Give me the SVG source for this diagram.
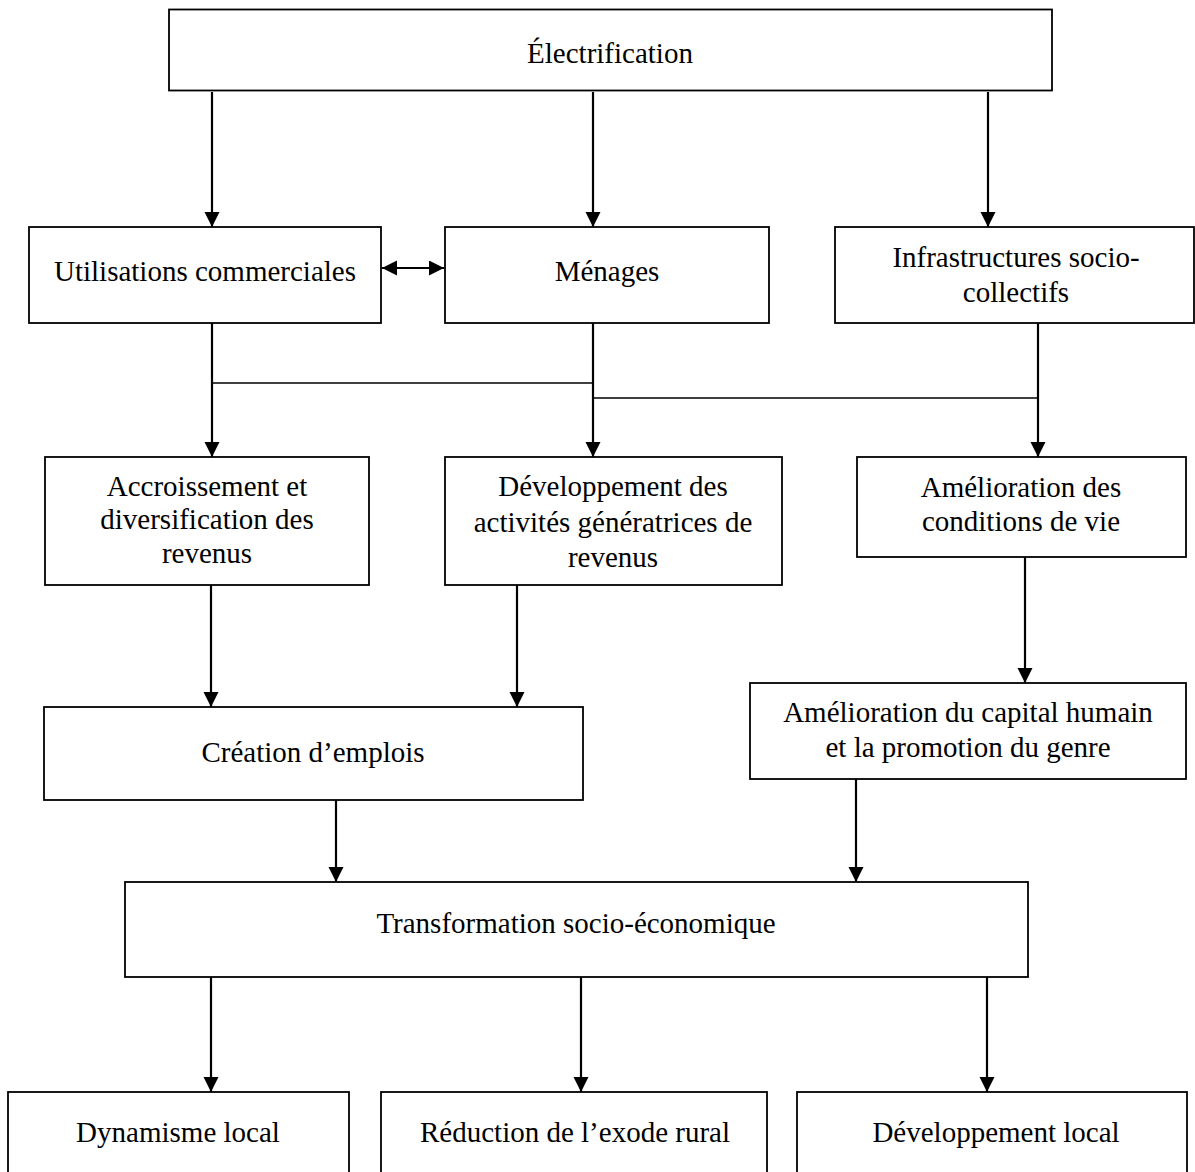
<svg xmlns="http://www.w3.org/2000/svg" width="1195" height="1172" viewBox="0 0 1195 1172">
<style>
.box{fill:#fff;stroke:#000;stroke-width:1.8}
text{font-family:'Liberation Serif','Times New Roman',Times,Tinos,'DejaVu Serif',serif;font-size:29px;fill:#000;text-anchor:middle}
.c{fill:none;stroke:#000;stroke-width:2.2}
.h{fill:none;stroke:#000;stroke-width:1.5}
</style>
<defs>
<marker id="arr" markerUnits="userSpaceOnUse" markerWidth="16" markerHeight="16" refX="15" refY="7.5" orient="auto-start-reverse">
<path d="M0,0 L15,7.5 L0,15 z" fill="#000"/>
</marker>
</defs>
<rect width="1195" height="1172" fill="#fff"/>
<g id="n-electrification"><rect class="box" x="169" y="9.5" width="883" height="81"/><text x="610" y="63">Électrification</text></g>
<g id="n-utilisations"><rect class="box" x="29" y="227" width="352" height="96"/><text x="205" y="281">Utilisations commerciales</text></g>
<g id="n-menages"><rect class="box" x="445" y="227" width="324" height="96"/><text x="607" y="281">Ménages</text></g>
<g id="n-infra"><rect class="box" x="835" y="227" width="359" height="96"/><text x="1016" y="267">Infrastructures socio-</text><text x="1016" y="302">collectifs</text></g>
<g id="n-accroissement"><rect class="box" x="45" y="457" width="324" height="128"/><text x="207" y="496">Accroissement et</text><text x="207" y="529">diversification des</text><text x="207" y="563">revenus</text></g>
<g id="n-developpement-agr"><rect class="box" x="445" y="457" width="337" height="128"/><text x="613" y="496">Développement des</text><text x="613" y="532">activités génératrices de</text><text x="613" y="567">revenus</text></g>
<g id="n-amelioration-vie"><rect class="box" x="857" y="457" width="329" height="100"/><text x="1021" y="497">Amélioration des</text><text x="1021" y="531">conditions de vie</text></g>
<g id="n-creation"><rect class="box" x="44" y="707" width="539" height="93"/><text x="313" y="762">Création d’emplois</text></g>
<g id="n-capital"><rect class="box" x="750" y="683" width="436" height="96"/><text x="968" y="722">Amélioration du capital humain</text><text x="968" y="757">et la promotion du genre</text></g>
<g id="n-transformation"><rect class="box" x="125" y="882" width="903" height="95"/><text x="576" y="933">Transformation socio-économique</text></g>
<g id="n-dynamisme"><rect class="box" x="8" y="1092" width="341" height="90"/><text x="178" y="1142">Dynamisme local</text></g>
<g id="n-reduction"><rect class="box" x="381" y="1092" width="386" height="90"/><text x="575" y="1142">Réduction de l’exode rural</text></g>
<g id="n-devlocal"><rect class="box" x="797" y="1092" width="390" height="90"/><text x="996" y="1142">Développement local</text></g>
<g id="connectors">
<line class="c" x1="212" y1="92" x2="212" y2="227" marker-end="url(#arr)"/>
<line class="c" x1="593" y1="92" x2="593" y2="227" marker-end="url(#arr)"/>
<line class="c" x1="988" y1="92" x2="988" y2="227" marker-end="url(#arr)"/>
<line class="c" x1="382" y1="268" x2="444" y2="268" marker-start="url(#arr)" marker-end="url(#arr)"/>
<line class="c" x1="212" y1="323" x2="212" y2="457" marker-end="url(#arr)"/>
<line class="c" x1="593" y1="323" x2="593" y2="457" marker-end="url(#arr)"/>
<line class="c" x1="1038" y1="323" x2="1038" y2="457" marker-end="url(#arr)"/>
<line class="h" x1="212" y1="383" x2="593" y2="383"/>
<line class="h" x1="593" y1="398" x2="1038" y2="398"/>
<line class="c" x1="211" y1="585" x2="211" y2="707" marker-end="url(#arr)"/>
<line class="c" x1="517" y1="585" x2="517" y2="707" marker-end="url(#arr)"/>
<line class="c" x1="1025" y1="557" x2="1025" y2="683" marker-end="url(#arr)"/>
<line class="c" x1="336" y1="800" x2="336" y2="882" marker-end="url(#arr)"/>
<line class="c" x1="856" y1="779" x2="856" y2="882" marker-end="url(#arr)"/>
<line class="c" x1="211" y1="977" x2="211" y2="1092" marker-end="url(#arr)"/>
<line class="c" x1="581" y1="977" x2="581" y2="1092" marker-end="url(#arr)"/>
<line class="c" x1="987" y1="977" x2="987" y2="1092" marker-end="url(#arr)"/>
</g>
</svg>
